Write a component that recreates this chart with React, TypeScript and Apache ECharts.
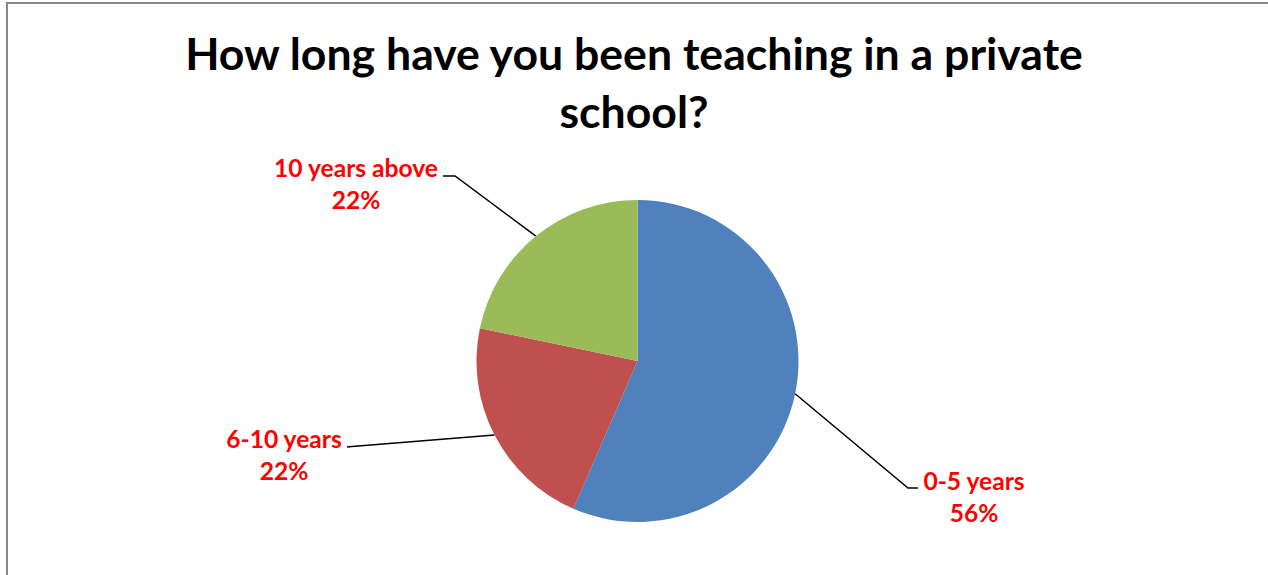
import React, { useEffect, useRef } from "react";
import * as echarts from "echarts";

const titleText = "How long have you been teaching in a private\nschool?";
const categories = ["0-5 years", "6-10 years", "10 years above"];
const values = [13, 5, 5];
const percentLabels = ["56%", "22%", "22%"];
const colors = ["#4F81BD", "#C0504D", "#9BBB59"];

// label anchor (center of label block) and leader-line geometry, layout only
const labelAnchors = [
  [974, 497],
  [284, 455],
  [356, 184],
];
const lineTails = [
  [[908, 488], [918, 488]],
  [[352, 446.6], [347, 447]],
  [[455, 176], [443, 176]],
];

export default function App() {
  const ref = useRef<HTMLDivElement>(null);
  useEffect(() => {
    if (!ref.current) return;
    const chart = echarts.init(ref.current, undefined, { renderer: "svg" });
    chart.setOption({
      animation: false,
      backgroundColor: "#ffffff",
      title: {
        text: titleText,
        left: "center",
        top: 18,
        textStyle: {
          fontFamily: "Lato",
          fontWeight: "bold",
          fontSize: 44.6,
          lineHeight: 58,
          color: "#000000",
          align: "center",
        },
      },
      graphic: [
        {
          type: "rect",
          silent: true,
          shape: { x: 7, y: 3, width: 1400, height: 800 },
          style: { fill: "none", stroke: "#878787", lineWidth: 2 },
        },
      ],
      series: [
        {
          type: "pie",
          center: [637.5, 361],
          radius: 161,
          startAngle: 90,
          clockwise: true,
          color: colors,
          itemStyle: { borderWidth: 0 },
          label: {
            show: true,
            position: "outside",
            formatter: (p: any) => `${p.name}\n${percentLabels[p.dataIndex]}`,
            fontFamily: "Lato",
            fontWeight: "bold",
            fontSize: 24.6,
            lineHeight: 32,
            color: "#FF0000",
            align: "center",
          },
          labelLine: {
            show: true,
            length: 20,
            length2: 10,
            lineStyle: { color: "#000000", width: 1.5 },
          },
          labelLayout: (params: any) => {
            const i = params.dataIndex;
            const pts = params.labelLinePoints;
            const start = pts ? pts[0] : lineTails[i][0];
            return {
              x: labelAnchors[i][0],
              y: labelAnchors[i][1] - 1,
              align: "center",
              verticalAlign: "middle",
              labelLinePoints: [start, lineTails[i][0], lineTails[i][1]],
            };
          },
          data: categories.map((c, i) => ({ name: c, value: values[i] })),
        },
      ],
    });
    return () => chart.dispose();
  }, []);
  return (
    <div
      ref={ref}
      style={{ position: "absolute", left: 0, top: 0, width: 1268, height: 575 }}
    />
  );
}
